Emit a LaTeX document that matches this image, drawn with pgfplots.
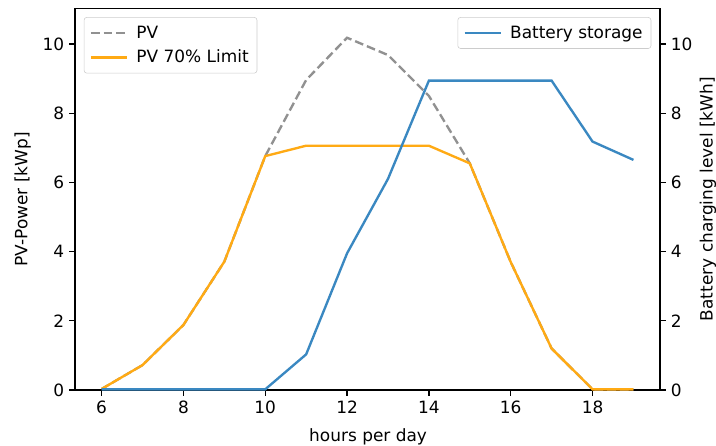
\documentclass[border=0pt]{standalone}
\usepackage{fontspec}
\setmainfont{DejaVu Sans}
\usepackage{pgfplots}
\pgfplotsset{compat=1.18}

\definecolor{pvgray}{HTML}{919191}
\definecolor{pvorange}{HTML}{FFAA14}
\definecolor{batblue}{HTML}{3A88C1}
\definecolor{legframe}{HTML}{CCCCCC}

\begin{document}
\begin{tikzpicture}
\useasboundingbox (-54pt,-40.3pt) rectangle (461.5pt,280.8pt);
\pgfplotsset{
  common/.style={
    width=421.2pt, height=274.8pt, scale only axis,
    xmin=5.35, xmax=19.65, ymin=0, ymax=11.03,
    tick align=outside, major tick length=4.2pt,
    tick style={black, line width=0.9pt},
    axis line style={line width=0.9pt},
    /pgf/number format/assume math mode=true,
    tick label style={font=\fontsize{12.2}{14}\selectfont},
    label style={font=\fontsize{12.2}{14}\selectfont},
    legend cell align=left,
    legend style={draw=legframe, rounded corners=2pt, fill=white, fill opacity=0.8, text opacity=1,
      font=\fontsize{12.2}{14}\selectfont, row sep=3pt, column sep=4pt, inner xsep=4pt, inner ysep=4pt},
    legend image code/.code={\draw[##1] (0pt,0pt) -- (26pt,0pt);},
  }
}
\begin{axis}[common,
  xtick={6,8,...,18}, ytick={0,2,...,10},
  xtick pos=left, ytick pos=left,
  xlabel={hours per day}, ylabel={PV-Power [kWp]},
  xlabel style={at={(axis description cs:0.501,-0.122)}, anchor=center},
  ylabel style={at={(axis description cs:-0.0895,0.5)}, anchor=center},
  legend style={at={(axis description cs:0.015,0.977)}, anchor=north west},
]
\addplot[pvgray, line width=1.7pt, dash pattern=on 6.3pt off 2.9pt] coordinates {
  (6,0.03) (7,0.72) (8,1.88) (9,3.71) (10,6.76) (11,8.96) (12,10.18) (13,9.68) (14,8.5) (15,6.55) (16,3.7) (17,1.2) (18,0.02) (19,0.02)};
\addlegendentry{PV}
\addplot[pvorange, line width=1.7pt] coordinates {
  (6,0.03) (7,0.72) (8,1.88) (9,3.71) (10,6.76) (11,7.06) (12,7.06) (13,7.06) (14,7.06) (15,6.55) (16,3.7) (17,1.2) (18,0.02) (19,0.02)};
\addlegendentry{PV 70\% Limit}
\end{axis}
\begin{axis}[common,
  axis x line=none, axis y line*=right,
  ytick={0,2,...,10}, ytick pos=right,
  ylabel={Battery charging level [kWh]},
  ylabel style={at={(axis description cs:1.082,0.5)}, anchor=center},
  legend style={at={(axis description cs:0.985,0.977)}, anchor=north east},
]
\addplot[batblue, line width=1.7pt] coordinates {
  (6,0.02) (7,0.02) (8,0.02) (9,0.02) (10,0.02) (11,1.03) (12,3.95) (13,6.1) (14,8.94) (15,8.94) (16,8.94) (17,8.94) (18,7.18) (19,6.65)};
\addlegendentry{Battery storage}
\end{axis}
\end{tikzpicture}
\end{document}
